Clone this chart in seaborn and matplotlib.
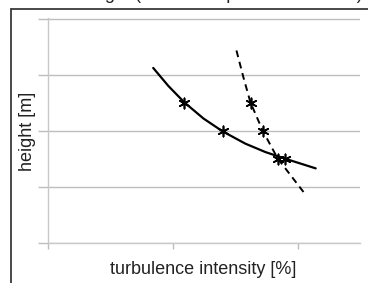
import matplotlib
matplotlib.use('Agg')
import matplotlib.pyplot as plt
import seaborn as sns
from matplotlib.lines import Line2D

# trend curves
solid_x = [0.843, 0.964, 1.092, 1.245, 1.398, 1.582, 1.743, 1.904, 2.145]
solid_y = [3.12, 2.80, 2.507, 2.22, 1.991, 1.77, 1.62, 1.50, 1.33]
dashed_x = [1.510, 1.566, 1.622, 1.719, 1.839, 2.048]
dashed_y = [3.431, 2.951, 2.507, 2.009, 1.511, 0.907]

# measured points
site1_ti = [1.09, 1.40, 1.90]
site1_h = [2.5, 2.0, 1.5]
site2_ti = [1.63, 1.72, 1.84]
site2_h = [2.5, 2.0, 1.5]

sns.set_style('white')
plt.rcParams['font.family'] = ['Liberation Sans', 'DejaVu Sans']

fig = plt.figure(figsize=(3.68, 2.83), dpi=100)
ax = fig.add_axes([48/368, 1 - 243/283, 312/368, 225/283])

sns.lineplot(x=solid_x, y=solid_y, ax=ax, color='black', lw=1.6, sort=False)
sns.lineplot(x=dashed_x, y=dashed_y, ax=ax, color='black', lw=1.4, sort=False,
             dashes=False, linestyle=(0, (3.5, 2.5)))
sns.scatterplot(x=site1_ti, y=site1_h, ax=ax, marker=(6, 2, 0), s=55,
                color='black', linewidth=1.2, zorder=5)
sns.scatterplot(x=site2_ti, y=site2_h, ax=ax, marker=(6, 2, 0), s=55,
                color='black', linewidth=1.2, zorder=5)

ax.set_xlim(0, 2.5)
ax.set_ylim(0, 4.01)
ax.set_xticks([0, 1, 2])
ax.set_yticks([0, 1, 2, 3, 4])
ax.set_xticklabels([])
ax.set_yticklabels([])
ax.yaxis.grid(True, color='#bdbdbd', lw=1)
ax.set_axisbelow(True)
for s in ['top', 'right']:
    ax.spines[s].set_visible(False)
for s in ['left', 'bottom']:
    ax.spines[s].set_color('#c8c8c8')
    ax.spines[s].set_linewidth(1)
ax.tick_params(axis='y', direction='out', length=7, color='#bdbdbd', width=1, left=True)
ax.tick_params(axis='x', direction='out', length=4, color='#bdbdbd', width=1, bottom=True)

# chart area frame (left and top edge visible in crop)
fig.add_artist(Line2D([11/368, 11/368], [0, 1 - 9/283], color='#3a3a3a', lw=1.3))
fig.add_artist(Line2D([11/368, 1], [1 - 9/283, 1 - 9/283], color='#3a3a3a', lw=1.3))

# title mostly cut off at the top, as in the reference
fig.text(32/368, 1 + 1/283, 'TI vs. height (measured profile and trend)',
         fontsize=13, ha='left', va='baseline', color='#222222')

fig.text(203/368, 1 - 270/283, 'turbulence intensity [%]', fontsize=13,
         ha='center', va='center', color='#222222')
fig.text(27.5/368, 1 - 131/283, 'height [m]', fontsize=13, rotation=90,
         ha='center', va='center', color='#222222')

fig.savefig('out.png', dpi=100)
